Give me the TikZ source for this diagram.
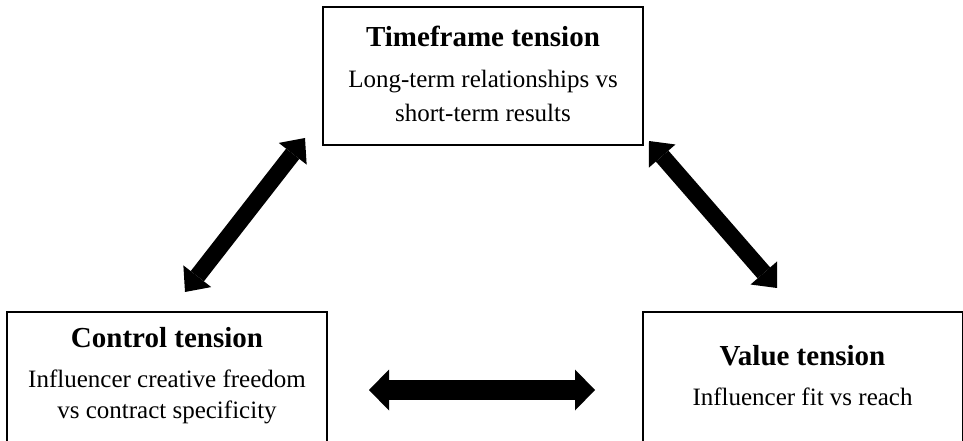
\documentclass[tikz,border=0pt]{standalone}
\usepackage{fontspec}
\setmainfont{Liberation Serif}
\usetikzlibrary{arrows.meta}
\begin{document}
\begin{tikzpicture}[x=0.75pt,y=-0.75pt,
  box/.style={draw,line width=1.5pt,minimum width=240pt,inner sep=0pt},
  ttl/.style={anchor=base,inner sep=0pt,font=\fontsize{21.75}{26}\selectfont\bfseries},
  txt/.style={anchor=base,inner sep=0pt,font=\fontsize{18.75}{22}\selectfont},
  harrow/.style={line width=15pt,arrows={Triangle[length=15pt,width=30.75pt,line width=0pt]-Triangle[length=15pt,width=30.75pt,line width=0pt]}},
  darrow/.style={line width=12.5pt,arrows={Triangle[length=15pt,width=26.5pt,line width=0pt]-Triangle[length=15pt,width=26.5pt,line width=0pt]}}
]
\useasboundingbox (0,0) rectangle (963,441);
\clip (0,0) rectangle (963,441);

% boxes
\node[box,minimum height=103.5pt] (top) at (483,76) {};
\node[box,minimum height=118.5pt] (left) at (167,391) {};
\node[box,minimum height=118.5pt] (right) at (802.5,391) {};

% texts
\node[ttl] (topT) at (483,47) {Timeframe tension};
\node[txt] (topA) at (483,88) {Long-term relationships vs};
\node[txt] (topB) at (483,122) {short-term results};

\node[ttl] (leftT) at (167,348) {Control tension};
\node[txt] (leftA) at (167,387) {Influencer creative freedom};
\node[txt] (leftB) at (167,418) {vs contract specificity};

\node[ttl] (rightT) at (802.5,365) {Value tension};
\node[txt] (rightA) at (802.5,405) {Influencer fit vs reach};

% arrow ends
\coordinate (a1s) at (185,292);
\coordinate (a1e) at (305,138);
\coordinate (a2s) at (649,141);
\coordinate (a2e) at (777,288);
\coordinate (a3s) at (369,390);
\coordinate (a3e) at (595,390);

\draw[darrow] (a1s) -- (a1e);
\draw[darrow] (a2s) -- (a2e);
\draw[harrow] (a3s) -- (a3e);
\end{tikzpicture}
\end{document}
